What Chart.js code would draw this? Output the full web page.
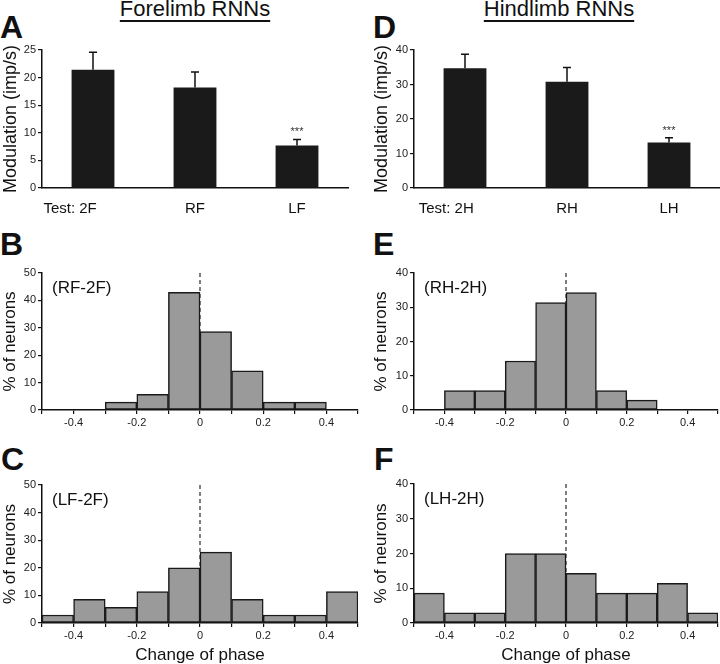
<!DOCTYPE html>
<html>
<head>
<meta charset="utf-8">
<script src="https://cdn.jsdelivr.net/npm/chart.js@4/dist/chart.umd.min.js"></script>
<style>
  body { margin: 0; background: #fff; }
  #fig { position: relative; width: 720px; height: 664px; overflow: hidden; font-family: 'Liberation Sans', Arial, sans-serif; color: #111; }
  canvas { position: absolute; }
  .letter { position: absolute; font-weight: bold; font-size: 32px; line-height: 32px; }
  .head { position: absolute; top: -2px; width: 240px; text-align: center; font-size: 22px; line-height: 22px;
          text-decoration: underline; text-underline-offset: 4px; text-decoration-thickness: 1.5px; }
</style>
</head>
<body>
<div id="fig">
  <div class="head" style="left:75px;">Forelimb RNNs</div>
  <div class="head" style="left:439px;">Hindlimb RNNs</div>
  <div class="letter" style="left:0px;top:11px;">A</div>
  <div class="letter" style="left:373px;top:11px;">D</div>
  <div class="letter" style="left:0px;top:228px;">B</div>
  <div class="letter" style="left:373px;top:228px;">E</div>
  <div class="letter" style="left:1px;top:443px;">C</div>
  <div class="letter" style="left:374px;top:443px;">F</div>

  <canvas id="chartA" width="360" height="178" style="left:0px;top:40px;"></canvas>
  <canvas id="chartD" width="349" height="178" style="left:371px;top:40px;"></canvas>
  <canvas id="chartB" width="360" height="212" style="left:0px;top:218px;"></canvas>
  <canvas id="chartE" width="349" height="212" style="left:371px;top:218px;"></canvas>
  <canvas id="chartC" width="360" height="234" style="left:0px;top:430px;"></canvas>
  <canvas id="chartF" width="349" height="234" style="left:371px;top:430px;"></canvas>
</div>

<script>
// Mean modulation (imp/s) and SEM, forelimb RNNs
const foreLabels = ['Test: 2F', 'RF', 'LF'];
const foreModulation = [21.4, 18.2, 7.7];
const foreSem = [3.2, 2.8, 1.1];
const foreStars = ['', '', '***'];

// Mean modulation (imp/s) and SEM, hindlimb RNNs
const hindLabels = ['Test: 2H', 'RH', 'LH'];
const hindModulation = [34.7, 30.8, 13.2];
const hindSem = [4.1, 4.1, 1.4];
const hindStars = ['', '', '***'];

// Histogram bin centres for change of phase
const phaseBins = [-0.45, -0.35, -0.25, -0.15, -0.05, 0.05, 0.15, 0.25, 0.35, 0.45];
// % of neurons per bin
const rfMinus2f = [0, 0, 2.9, 5.7, 42.9, 28.6, 14.3, 2.9, 2.9, 0];
const lfMinus2f = [2.9, 8.6, 5.7, 11.4, 20.0, 25.7, 8.6, 2.9, 2.9, 11.4];
const rhMinus2h = [0, 5.7, 5.7, 14.3, 31.4, 34.3, 5.7, 2.9, 0, 0];
const lhMinus2h = [8.6, 2.9, 2.9, 20.0, 20.0, 14.3, 8.6, 8.6, 11.4, 2.9];

Chart.defaults.font.family = "'Liberation Sans', Arial, sans-serif";
Chart.defaults.color = '#111';

// Draws error bars, significance stars, the dashed zero line and the panel tag
const panelExtras = {
    id: 'panelExtras',
    beforeDatasetsDraw(chart, args, opts) {
        if (!opts.zeroLine) return;
        const { ctx, chartArea } = chart;
        const x = chart.scales.x.getPixelForValue(0);
        ctx.save();
        ctx.strokeStyle = '#555';
        ctx.lineWidth = 1.5;
        ctx.setLineDash([4, 3]);
        ctx.beginPath();
        ctx.moveTo(x, chartArea.top);
        ctx.lineTo(x, chartArea.bottom);
        ctx.stroke();
        ctx.restore();
    },
    afterDatasetsDraw(chart, args, opts) {
        const { ctx, chartArea } = chart;
        const yScale = chart.scales.y;
        ctx.save();
        if (opts.sem) {
            const meta = chart.getDatasetMeta(0);
            const values = chart.data.datasets[0].data;
            meta.data.forEach(function(bar, i) {
                const yBar = yScale.getPixelForValue(values[i]);
                const yTop = yScale.getPixelForValue(values[i] + opts.sem[i]);
                ctx.strokeStyle = '#111';
                ctx.lineWidth = 1.5;
                ctx.beginPath();
                ctx.moveTo(bar.x, yBar);
                ctx.lineTo(bar.x, yTop);
                ctx.moveTo(bar.x - 4, yTop);
                ctx.lineTo(bar.x + 4, yTop);
                ctx.stroke();
                if (opts.stars && opts.stars[i]) {
                    ctx.fillStyle = '#333';
                    ctx.font = "11px 'Liberation Sans', Arial, sans-serif";
                    ctx.textAlign = 'center';
                    ctx.textBaseline = 'middle';
                    ctx.fillText(opts.stars[i], bar.x, yTop - 7);
                }
            });
        }
        if (opts.tag) {
            ctx.fillStyle = '#111';
            ctx.font = "17px 'Liberation Sans', Arial, sans-serif";
            ctx.textAlign = 'left';
            ctx.textBaseline = 'middle';
            ctx.fillText(opts.tag, chartArea.left + 10, chartArea.top + 15);
        }
        ctx.restore();
    }
};

function yAxis(max, step, title, titleSize, width) {
    return {
        min: 0,
        max: max,
        ticks: { stepSize: step, font: { size: 11 }, padding: 2, color: '#222' },
        grid: { drawOnChartArea: false, drawTicks: true, tickLength: 4, color: '#111', lineWidth: 1.2 },
        border: { color: '#111', width: 1.5 },
        title: { display: true, text: title, font: { size: titleSize }, padding: { top: 0, bottom: 0 }, color: '#111' },
        afterFit: (scale) => { scale.width = width; }
    };
}

function makeBarPanel(id, labels, values, sem, stars, yMax, yStep, yWidth, padRight, firstShift) {
    const ctx = document.getElementById(id).getContext('2d');
    return new Chart(ctx, {
        type: 'bar',
        data: {
            labels: labels,
            datasets: [{
                data: values,
                backgroundColor: '#1a1a1a',
                borderWidth: 0,
                barPercentage: 0.42,
                categoryPercentage: 1
            }]
        },
        options: {
            responsive: false,
            animation: false,
            devicePixelRatio: 1,
            layout: { padding: { top: 10, right: padRight, left: 0, bottom: 0 } },
            plugins: {
                legend: { display: false },
                tooltip: { enabled: false },
                panelExtras: { sem: sem, stars: stars }
            },
            scales: {
                x: {
                    grid: { display: false },
                    border: { color: '#111', width: 1.5 },
                    ticks: {
                        font: { size: 15 },
                        padding: 4,
                        color: '#111',
                        maxRotation: 0,
                        minRotation: 0,
                        autoSkip: false,
                        // "Test:" prefix hangs to the left of the first bar
                        callback: function(value, index) {
                            const label = this.getLabelForValue(value);
                            return index === 0 ? label + '\u00a0'.repeat(firstShift) : label;
                        }
                    },
                    afterFit: (scale) => { scale.height = 30; }
                },
                y: yAxis(yMax, yStep, 'Modulation (imp/s)', 18, yWidth)
            }
        },
        plugins: [panelExtras]
    });
}

function makeHistPanel(id, values, tag, yMax, yWidth, padTop, xHeight, showTitle) {
    const ctx = document.getElementById(id).getContext('2d');
    return new Chart(ctx, {
        type: 'bar',
        data: {
            datasets: [{
                data: phaseBins.map((b, i) => ({ x: b, y: values[i] })),
                backgroundColor: '#9a9a9a',
                borderColor: '#1a1a1a',
                borderWidth: 1.5,
                borderSkipped: false,
                barPercentage: 1,
                categoryPercentage: 1
            }]
        },
        options: {
            responsive: false,
            animation: false,
            devicePixelRatio: 1,
            layout: { padding: { top: padTop, right: 0, left: 0, bottom: 0 } },
            plugins: {
                legend: { display: false },
                tooltip: { enabled: false },
                panelExtras: { zeroLine: true, tag: tag }
            },
            scales: {
                x: {
                    type: 'linear',
                    min: -0.5,
                    max: 0.5,
                    offset: false,
                    grid: { offset: false, drawOnChartArea: false, drawTicks: true, tickLength: 4, color: '#111', lineWidth: 1.2 },
                    border: { color: '#111', width: 1.5 },
                    ticks: {
                        stepSize: 0.1,
                        autoSkip: false,
                        maxRotation: 0,
                        padding: 2,
                        font: { size: 11 },
                        color: '#222',
                        callback: function(value) {
                            const t = Math.round(value * 10);
                            if (t % 2 !== 0) return '';
                            return t === 0 ? '0' : (t / 10).toFixed(1);
                        }
                    },
                    title: {
                        display: showTitle,
                        text: 'Change of phase',
                        font: { size: 17, lineHeight: 1 },
                        padding: { top: 0, bottom: 0 },
                        color: '#111'
                    },
                    afterFit: (scale) => { scale.height = xHeight; }
                },
                y: yAxis(yMax, 10, '% of neurons', 17, yWidth)
            }
        },
        plugins: [panelExtras]
    });
}

makeBarPanel('chartA', foreLabels, foreModulation, foreSem, foreStars, 25, 5, 42, 12, 11);
makeBarPanel('chartD', hindLabels, hindModulation, hindSem, hindStars, 40, 10, 43, 0, 9);

makeHistPanel('chartB', rfMinus2f, '(RF-2F)', 50, 42, 55, 20, false);
makeHistPanel('chartE', rhMinus2h, '(RH-2H)', 40, 43, 55, 20, false);
makeHistPanel('chartC', lfMinus2f, '(LF-2F)', 50, 42, 55, 41, true);
makeHistPanel('chartF', lhMinus2h, '(LH-2H)', 40, 43, 54, 41, true);
</script>
</body>
</html>
